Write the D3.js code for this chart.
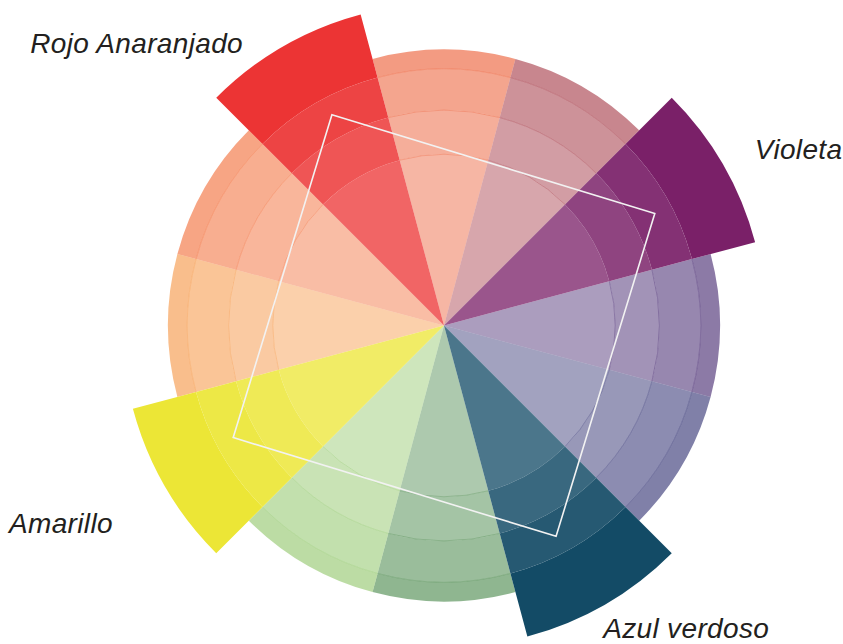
<!DOCTYPE html>
<html>
<head>
<meta charset="utf-8">
<script src="https://cdn.jsdelivr.net/npm/d3@7"></script>
<style>
  html, body { margin: 0; padding: 0; background: #fff; }
  svg { display: block; }
  .hue-label {
    font-family: "Liberation Sans", Arial, Helvetica, sans-serif;
    font-style: italic;
    font-size: 28px;
    letter-spacing: 0.35px;
    fill: #231f20;
  }
</style>
</head>
<body>
<svg id="wheel" width="843" height="644"></svg>
<script>
// 12-part colour wheel, clockwise from the top
const hues = ['Rojo', 'Rojo violeta', 'Violeta', 'Azul violeta', 'Azul', 'Azul verdoso',
  'Verde', 'Amarillo verdoso', 'Amarillo', 'Amarillo anaranjado', 'Anaranjado', 'Rojo anaranjado'];
const hueColors = ['#eb582f', '#a33543', '#7a2068', '#3f216b', '#2b2b6e', '#134b66',
  '#448546', '#8fc567', '#ece636', '#f5933f', '#f26932', '#ec3434'];

// tetradic scheme picked on the wheel
const schemeHues = ['Rojo anaranjado', 'Violeta', 'Azul verdoso', 'Amarillo'];
const schemeLabels = ['Rojo Anaranjado', 'Violeta', 'Azul verdoso', 'Amarillo'];

// ring edges (share of wheel radius) and strength of each ring, inside out
const ringEdges = [0, 0.62, 0.78, 0.93, 1];
const ringStrength = [0.73, 0.81, 0.9, 1];
const schemeStrength = [0.76, 0.84, 0.92, 1];

const cx = 444, cy = 325.5, R = 276;
const fadedOpacity = 0.6;
const highlightReach = 1.167;
const squareReach = 0.865;
const squareTilt = 2 * Math.PI / 180;

// where the scheme labels sit: turn in degrees off the hue centre, reach as share of R
const labelPlace = {
  'Rojo anaranjado': { turn: -6.4, reach: 1.227, anchor: 'end' },
  'Violeta': { turn: 1.8, reach: 1.278, anchor: 'start' },
  'Azul verdoso': { turn: 3.0, reach: 1.27, anchor: 'start' },
  'Amarillo': { turn: -2.1, reach: 1.416, anchor: 'end' },
};

const svg = d3.select('#wheel');
const chart = svg.append('g').attr('transform', `translate(${cx},${cy})`);

const step = (2 * Math.PI) / hues.length;
const angle = d3.scaleBand().domain(hues).range([-step / 2, 2 * Math.PI - step / 2]);
const radius = d3.scaleLinear().domain([0, 1]).range([0, R]);
const color = d3.scaleOrdinal().domain(hues).range(hueColors);

const polar = (a, r) => [r * Math.sin(a), -r * Math.cos(a)];
const isScheme = (h) => schemeHues.includes(h);

// build ring pieces for every hue; scheme hues get the longer outer piece
const pieces = [];
hues.forEach((h) => {
  const scheme = isScheme(h);
  const strength = scheme ? schemeStrength : ringStrength;
  strength.forEach((s, i) => {
    const outer = scheme && i === strength.length - 1 ? highlightReach : ringEdges[i + 1];
    pieces.push({ hue: h, r0: ringEdges[i], r1: outer, strength: s, scheme });
  });
});

const arc = d3
  .arc()
  .startAngle((d) => angle(d.hue))
  .endAngle((d) => angle(d.hue) + step)
  .innerRadius((d) => radius(d.r0))
  .outerRadius((d) => radius(d.r1));

// faded hues first, picked hues on top
chart
  .append('g')
  .attr('class', 'faded')
  .selectAll('path')
  .data(pieces.filter((d) => !d.scheme))
  .join('path')
  .attr('d', arc)
  .attr('fill', (d) => color(d.hue))
  .attr('fill-opacity', (d) => d.strength * fadedOpacity);

// thin ring lines on the faded hues
const ringLines = hues
  .filter((h) => !isScheme(h))
  .flatMap((h) => ringEdges.slice(1, -1).map((e) => ({ hue: h, r: e })));

chart
  .append('g')
  .attr('class', 'ring-lines')
  .selectAll('path')
  .data(ringLines)
  .join('path')
  .attr('d', (d) => {
    const p = d3.path();
    const a0 = angle(d.hue), a1 = a0 + step;
    const [x0, y0] = polar(a0, radius(d.r));
    p.moveTo(x0, y0);
    p.arc(0, 0, radius(d.r), a0 - Math.PI / 2, a1 - Math.PI / 2);
    return p.toString();
  })
  .attr('fill', 'none')
  .attr('stroke', (d) => color(d.hue))
  .attr('stroke-opacity', 0.4)
  .attr('stroke-width', 0.8);

chart
  .append('g')
  .attr('class', 'scheme')
  .selectAll('path')
  .data(pieces.filter((d) => d.scheme))
  .join('path')
  .attr('d', arc)
  .attr('fill', (d) => color(d.hue))
  .attr('fill-opacity', (d) => d.strength);

// square joining the four picked hues
const corners = schemeHues.map((h) =>
  polar(angle(h) + step / 2 + squareTilt, radius(squareReach))
);
chart
  .append('path')
  .attr('class', 'scheme-square')
  .attr('d', d3.line().curve(d3.curveLinearClosed)(corners))
  .attr('fill', 'none')
  .attr('stroke', '#f2f2f2')
  .attr('stroke-width', 1.6);

// labels for the picked hues
chart
  .append('g')
  .attr('class', 'labels')
  .selectAll('text')
  .data(schemeHues.map((h, i) => ({ hue: h, label: schemeLabels[i] })))
  .join('text')
  .attr('class', 'hue-label')
  .each(function (d) {
    const place = labelPlace[d.hue];
    const a = angle(d.hue) + step / 2 + (place.turn * Math.PI) / 180;
    const [x, y] = polar(a, radius(place.reach));
    d3.select(this).attr('x', x).attr('y', y).attr('text-anchor', place.anchor);
  })
  .text((d) => d.label);
</script>
</body>
</html>
